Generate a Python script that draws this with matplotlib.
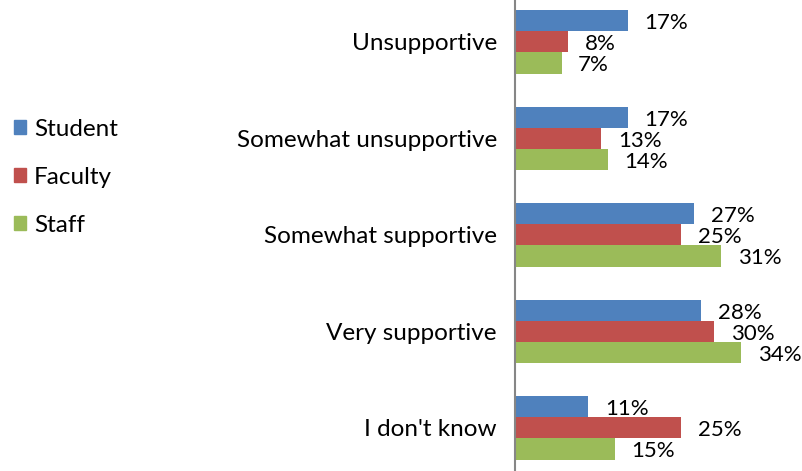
import numpy as np
import matplotlib.pyplot as plt
from matplotlib.patches import Patch

plt.rcParams['font.family'] = ['Lato', 'DejaVu Sans']

# 数据
categories = ["Unsupportive", "Somewhat unsupportive", "Somewhat supportive",
              "Very supportive", "I don't know"]
series = ["Student", "Faculty", "Staff"]
student = [17, 17, 27, 28, 11]
faculty = [8, 13, 25, 30, 25]
staff = [7, 14, 31, 34, 15]
colors = ["#4F81BD", "#C0504D", "#9BBB59"]

fs = 17.5

# 画布
fig = plt.figure(figsize=(8.02, 4.71), dpi=100)
ax = fig.add_axes([515 / 802, 0, 1 - 515 / 802, 1])

y = np.arange(len(categories))
h = 0.218
for i, (vals, c) in enumerate(zip([student, faculty, staff], colors)):
    pos = y + (i - 1) * h
    ax.barh(pos, vals, height=h, color=c)
    # 数据标签
    for p, v in zip(pos, vals):
        ax.annotate("%d%%" % v, (v, p), xytext=(12, -1.5), textcoords="offset points",
                    ha="left", va="center", fontsize=16, color="black")

ax.set_ylim(4.446, -0.435)
ax.set_xlim(0, 43.2)
ax.set_yticks(y)
ax.set_yticklabels(categories, fontsize=fs)
ax.tick_params(axis="y", length=0, pad=13)
ax.set_xticks([])
for s in ["top", "right", "bottom"]:
    ax.spines[s].set_visible(False)
ax.spines["left"].set_color("#868686")
ax.spines["left"].set_linewidth(1.5)

# 图例
handles = [Patch(color=c, label=s) for s, c in zip(series, colors)]
fig.legend(handles=handles, loc="upper left", bbox_to_anchor=(0.0175, 0.748),
           frameon=False, fontsize=fs, borderpad=0, borderaxespad=0,
           handlelength=0.5, handleheight=0.5,
           handletextpad=0.33, labelspacing=1.11)

plt.savefig("out.png", dpi=100)
